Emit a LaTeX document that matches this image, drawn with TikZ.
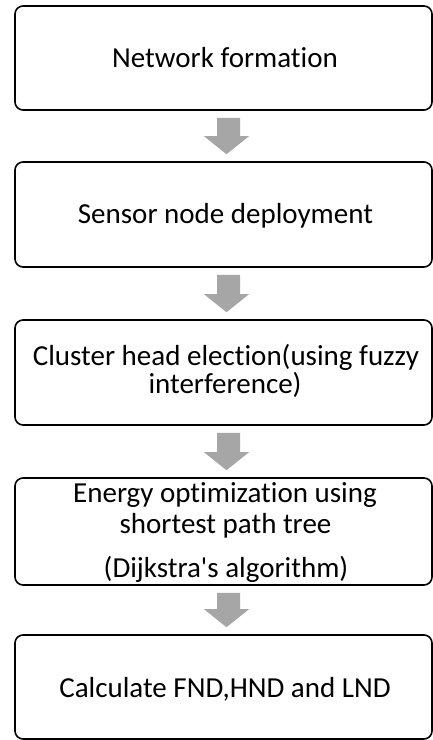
\documentclass[tikz,border=0pt]{standalone}
\usepackage{fontspec}
\newfontfamily\boxfont{Carlito}[Ligatures={NoCommon}]
\usetikzlibrary{calc}
\definecolor{arrowgray}{HTML}{A6A6A6}
\tikzset{
  stepbox/.style={draw=black, line width=1.6pt, rounded corners=8pt, minimum width=417pt, inner sep=0pt, fill=white},
  lbl/.style={anchor=base, inner sep=0pt, font=\boxfont\fontsize{29}{30}\selectfont},
  blockarrow/.style={fill=arrowgray, draw=none}
}
\newcommand{\flowarrow}[2]{%
  \fill[blockarrow] ($(#1.south)+(-6.5,7)$) -- ($(#1.south)+(16.5,7)$)
    -- ($(#2.north)+(16.5,-25)$) -- ($(#2.north)+(25.5,-25)$)
    -- ($(#2.north)+(3,-7)$) -- ($(#2.north)+(-19.5,-25)$)
    -- ($(#2.north)+(-6.5,-25)$) -- cycle;}
\begin{document}
\begin{tikzpicture}[x=1pt,y=-1pt]
\useasboundingbox (0,0) rectangle (433,740);
\node[stepbox, minimum height=104pt] (b1) at (223.5,58) {};
\node[stepbox, minimum height=105pt] (b2) at (223.5,214.5) {};
\node[stepbox, minimum height=105pt] (b3) at (223.5,372.5) {};
\node[stepbox, minimum height=107pt] (b4) at (223.5,531.5) {};
\node[stepbox, minimum height=104pt] (b5) at (223.5,687) {};
\node[lbl] (t1) at (225,67) {Network formation};
\node[lbl] (t2) at (225.5,223) {Sensor node deployment};
\node[lbl] (t3a) at (226,365) {Cluster head election(using fuzzy};
\node[lbl] (t3b) at (225,393) {interference)};
\node[lbl] (t4a) at (225,502) {Energy optimization using};
\node[lbl] (t4b) at (225.5,533) {shortest path tree};
\node[lbl] (t4c) at (226,577) {(Dijkstra's algorithm)};
\node[lbl] (t5) at (225,697) {Calculate FND,HND and LND};
\flowarrow{b1}{b2}
\flowarrow{b2}{b3}
\flowarrow{b3}{b4}
\flowarrow{b4}{b5}
\end{tikzpicture}
\end{document}
